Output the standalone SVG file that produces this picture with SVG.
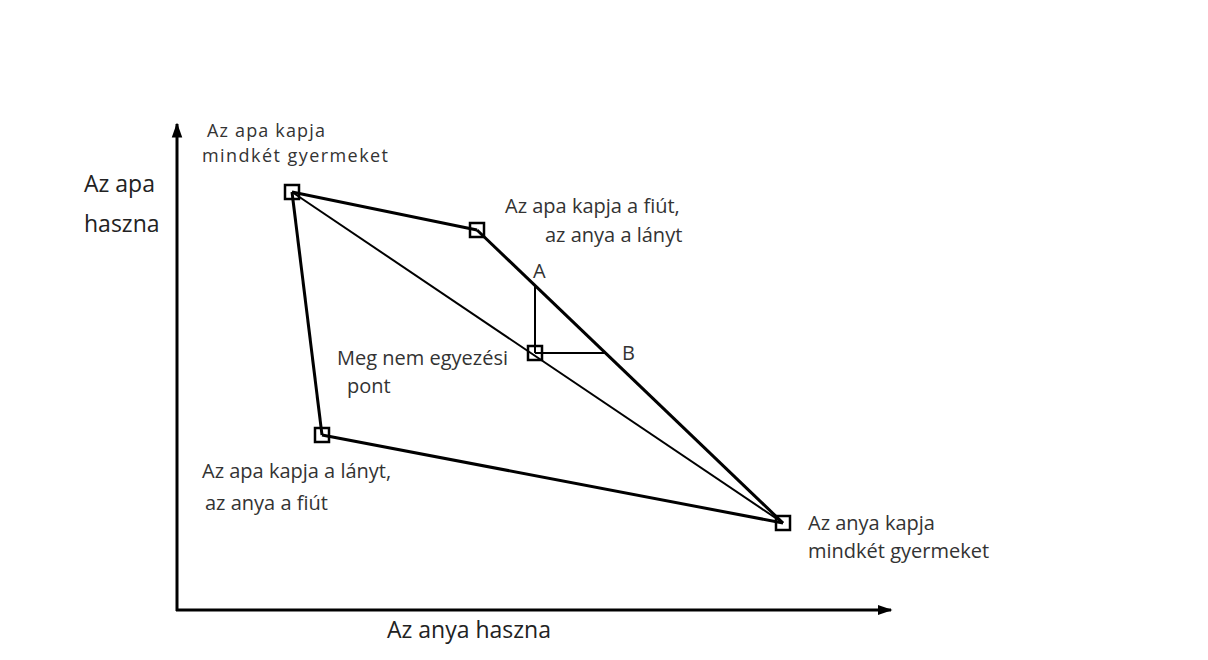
<svg xmlns="http://www.w3.org/2000/svg" width="1208" height="660" viewBox="0 0 1208 660">
<style>
.t{font-family:"Open Sans","Liberation Sans",sans-serif;font-size:20px;fill:#333}
.ax{font-family:"Open Sans","Liberation Sans",sans-serif;font-size:23px;fill:#222}
.thick{stroke:#000;stroke-width:3;fill:none}
.thin{stroke:#000;stroke-width:2;fill:none}
.sq{stroke:#000;stroke-width:2.5;fill:none}
</style>
<defs>
<marker id="arr" viewBox="0 0 10 10" refX="9" refY="5" markerWidth="5" markerHeight="5" orient="auto" markerUnits="strokeWidth">
<path d="M0,1.5 L10,5 L0,8.5 Z" fill="#000"/>
</marker>
</defs>
<rect width="1208" height="660" fill="#fff"/>
<g id="axes">
<line x1="177" y1="611" x2="177" y2="124" class="thick" stroke-width="2.5" marker-end="url(#arr)"/>
<line x1="176" y1="610" x2="891" y2="610" class="thick" stroke-width="2.5" marker-end="url(#arr)"/>
<text class="ax" x="84" y="192">Az apa</text>
<text class="ax" x="84" y="232">haszna</text>
<text class="ax" x="387" y="638">Az anya haszna</text>
</g>
<g id="connectors">
<line x1="292" y1="192" x2="477" y2="230" class="thick"/>
<line x1="477" y1="230" x2="783" y2="523" class="thick"/>
<line x1="292" y1="192" x2="322" y2="435" class="thick"/>
<line x1="322" y1="435" x2="783" y2="523" class="thick"/>
<line x1="292" y1="192" x2="783" y2="523" class="thin"/>
<line x1="535" y1="353" x2="535" y2="286" class="thin"/>
<line x1="535" y1="353" x2="605" y2="353" class="thin"/>
</g>
<g id="n1">
<rect x="285" y="185" width="14" height="14" class="sq"/>
<text class="t" x="207" y="137" style="font-size:18px" textLength="118">Az apa kapja</text>
<text class="t" x="202" y="162" style="font-size:18px" textLength="186">mindkét gyermeket</text>
</g>
<g id="n2">
<rect x="470" y="223" width="14" height="14" class="sq"/>
<text class="t" x="505" y="213">Az apa kapja a fiút,</text>
<text class="t" x="545" y="242">az anya a lányt</text>
</g>
<g id="n3">
<rect x="528" y="346" width="14" height="14" class="sq"/>
<text class="t" x="337" y="365">Meg nem egyezési</text>
<text class="t" x="347" y="393">pont</text>
</g>
<g id="n4">
<rect x="315" y="428" width="14" height="14" class="sq"/>
<text class="t" x="202" y="478">Az apa kapja a lányt,</text>
<text class="t" x="205" y="510">az anya a fiút</text>
</g>
<g id="n5">
<rect x="776" y="516" width="14" height="14" class="sq"/>
<text class="t" x="808" y="530">Az anya kapja</text>
<text class="t" x="808" y="558">mindkét gyermeket</text>
</g>
<g id="A"><text class="t" x="533" y="278">A</text></g>
<g id="B"><text class="t" x="622" y="360">B</text></g>
</svg>
